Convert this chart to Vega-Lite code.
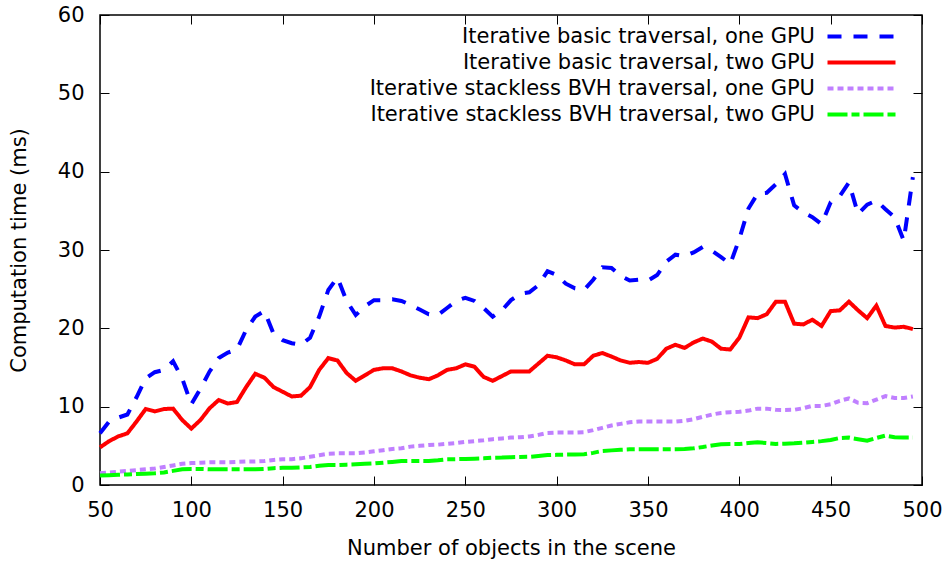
{
  "$schema": "https://vega.github.io/schema/vega-lite/v6.json",
  "width": 822,
  "height": 470,
  "autosize": {"type": "none"},
  "padding": {"left": 100, "top": 15, "right": 27, "bottom": 79},
  "background": "white",
  "config": {
    "view": {"stroke": "#000", "strokeWidth": 1.5},
    "font": "DejaVu Sans",
    "axis": {
      "domain": false,
      "grid": false,
      "labelFlush": false,
      "tickColor": "#000",
      "tickSize": -9,
      "tickWidth": 1,
      "labelFont": "DejaVu Sans",
      "labelFontSize": 21,
      "labelColor": "#000",
      "titleFont": "DejaVu Sans",
      "titleFontSize": 21,
      "titleFontWeight": "normal",
      "titleColor": "#000"
    }
  },
  "data": {"values": [
    {"n":50,"b":6.6,"r":4.8,"p":1.5,"g":1.2},
    {"n":55,"b":8.1,"r":5.6,"p":1.6,"g":1.25},
    {"n":60,"b":8.6,"r":6.2,"p":1.7,"g":1.3},
    {"n":65,"b":9.0,"r":6.6,"p":1.8,"g":1.35},
    {"n":70,"b":11.2,"r":8.1,"p":1.9,"g":1.4},
    {"n":75,"b":13.6,"r":9.7,"p":2.0,"g":1.45},
    {"n":80,"b":14.4,"r":9.4,"p":2.1,"g":1.5},
    {"n":85,"b":14.7,"r":9.7,"p":2.3,"g":1.6},
    {"n":90,"b":15.8,"r":9.75,"p":2.5,"g":1.8},
    {"n":95,"b":13.6,"r":8.3,"p":2.7,"g":2.0},
    {"n":100,"b":10.3,"r":7.2,"p":2.8,"g":2.05},
    {"n":105,"b":12.3,"r":8.3,"p":2.85,"g":2.05},
    {"n":110,"b":14.5,"r":9.8,"p":2.9,"g":2.0},
    {"n":115,"b":16.2,"r":10.85,"p":2.9,"g":2.0},
    {"n":120,"b":16.9,"r":10.4,"p":2.9,"g":2.0},
    {"n":125,"b":17.3,"r":10.6,"p":2.95,"g":2.0},
    {"n":130,"b":19.8,"r":12.5,"p":3.0,"g":2.0},
    {"n":135,"b":21.5,"r":14.2,"p":3.0,"g":2.0},
    {"n":140,"b":22.2,"r":13.7,"p":3.05,"g":2.05},
    {"n":145,"b":19.3,"r":12.5,"p":3.2,"g":2.15},
    {"n":150,"b":18.5,"r":11.9,"p":3.3,"g":2.2},
    {"n":155,"b":18.1,"r":11.3,"p":3.3,"g":2.2},
    {"n":160,"b":17.9,"r":11.4,"p":3.4,"g":2.25},
    {"n":165,"b":18.8,"r":12.5,"p":3.6,"g":2.3},
    {"n":170,"b":21.5,"r":14.7,"p":3.8,"g":2.45},
    {"n":175,"b":24.9,"r":16.2,"p":4.0,"g":2.55},
    {"n":180,"b":26.5,"r":15.9,"p":4.05,"g":2.55},
    {"n":185,"b":23.5,"r":14.3,"p":4.05,"g":2.6},
    {"n":190,"b":21.7,"r":13.3,"p":4.05,"g":2.65},
    {"n":195,"b":22.8,"r":14.0,"p":4.15,"g":2.7},
    {"n":200,"b":23.6,"r":14.7,"p":4.3,"g":2.75},
    {"n":205,"b":23.6,"r":14.9,"p":4.45,"g":2.85},
    {"n":210,"b":23.7,"r":14.9,"p":4.6,"g":2.95},
    {"n":215,"b":23.5,"r":14.5,"p":4.7,"g":3.05},
    {"n":220,"b":23.0,"r":14.0,"p":4.9,"g":3.06},
    {"n":225,"b":22.4,"r":13.7,"p":5.0,"g":3.06},
    {"n":230,"b":21.8,"r":13.5,"p":5.1,"g":3.06},
    {"n":235,"b":21.7,"r":14.0,"p":5.15,"g":3.15},
    {"n":240,"b":22.6,"r":14.7,"p":5.25,"g":3.28},
    {"n":245,"b":23.5,"r":14.9,"p":5.35,"g":3.3},
    {"n":250,"b":23.9,"r":15.4,"p":5.5,"g":3.32},
    {"n":255,"b":23.5,"r":15.1,"p":5.6,"g":3.35},
    {"n":260,"b":22.6,"r":13.8,"p":5.7,"g":3.4},
    {"n":265,"b":21.5,"r":13.3,"p":5.85,"g":3.48},
    {"n":270,"b":22.3,"r":13.9,"p":5.95,"g":3.5},
    {"n":275,"b":23.6,"r":14.5,"p":6.05,"g":3.55},
    {"n":280,"b":24.4,"r":14.5,"p":6.1,"g":3.58},
    {"n":285,"b":24.6,"r":14.5,"p":6.2,"g":3.6},
    {"n":290,"b":25.5,"r":15.5,"p":6.4,"g":3.7},
    {"n":295,"b":27.3,"r":16.5,"p":6.65,"g":3.82},
    {"n":300,"b":26.8,"r":16.3,"p":6.7,"g":3.85},
    {"n":305,"b":25.7,"r":15.9,"p":6.7,"g":3.88},
    {"n":310,"b":25.1,"r":15.4,"p":6.7,"g":3.9},
    {"n":315,"b":24.9,"r":15.4,"p":6.75,"g":3.92},
    {"n":320,"b":26.2,"r":16.5,"p":7.0,"g":4.1},
    {"n":325,"b":27.8,"r":16.85,"p":7.3,"g":4.35},
    {"n":330,"b":27.7,"r":16.4,"p":7.6,"g":4.42},
    {"n":335,"b":26.7,"r":15.9,"p":7.8,"g":4.5},
    {"n":340,"b":26.1,"r":15.6,"p":8.0,"g":4.55},
    {"n":345,"b":26.2,"r":15.7,"p":8.1,"g":4.55},
    {"n":350,"b":26.1,"r":15.6,"p":8.1,"g":4.55},
    {"n":355,"b":26.8,"r":16.1,"p":8.1,"g":4.55},
    {"n":360,"b":28.5,"r":17.4,"p":8.1,"g":4.55},
    {"n":365,"b":29.4,"r":17.9,"p":8.1,"g":4.56},
    {"n":370,"b":29.2,"r":17.5,"p":8.2,"g":4.6},
    {"n":375,"b":29.7,"r":18.2,"p":8.4,"g":4.68},
    {"n":380,"b":30.4,"r":18.7,"p":8.7,"g":4.85},
    {"n":385,"b":29.9,"r":18.3,"p":9.0,"g":5.05},
    {"n":390,"b":29.1,"r":17.4,"p":9.2,"g":5.2},
    {"n":395,"b":28.2,"r":17.3,"p":9.3,"g":5.23},
    {"n":400,"b":31.4,"r":18.8,"p":9.35,"g":5.23},
    {"n":405,"b":35.3,"r":21.4,"p":9.5,"g":5.35},
    {"n":410,"b":37.2,"r":21.3,"p":9.75,"g":5.45},
    {"n":415,"b":37.3,"r":21.8,"p":9.75,"g":5.35},
    {"n":420,"b":38.4,"r":23.4,"p":9.6,"g":5.25},
    {"n":425,"b":39.7,"r":23.4,"p":9.58,"g":5.28},
    {"n":430,"b":35.7,"r":20.6,"p":9.6,"g":5.32},
    {"n":435,"b":34.8,"r":20.5,"p":9.8,"g":5.4},
    {"n":440,"b":34.2,"r":21.1,"p":10.1,"g":5.5},
    {"n":445,"b":33.3,"r":20.3,"p":10.1,"g":5.6},
    {"n":450,"b":36.1,"r":22.2,"p":10.3,"g":5.75},
    {"n":455,"b":36.9,"r":22.3,"p":10.75,"g":6.0},
    {"n":460,"b":38.6,"r":23.4,"p":11.05,"g":6.05},
    {"n":465,"b":34.6,"r":22.3,"p":10.5,"g":5.85},
    {"n":470,"b":35.8,"r":21.3,"p":10.45,"g":5.65},
    {"n":475,"b":36.3,"r":22.9,"p":10.9,"g":6.0},
    {"n":480,"b":35.2,"r":20.3,"p":11.35,"g":6.3},
    {"n":485,"b":34.2,"r":20.1,"p":11.1,"g":6.1},
    {"n":490,"b":31.2,"r":20.2,"p":11.1,"g":6.05},
    {"n":495,"b":39.3,"r":19.9,"p":11.3,"g":6.05}
  ]},
  "transform": [{"fold": ["b", "r", "p", "g"], "as": ["series", "t"]}],
  "layer": [
    {
      "mark": {"type": "line", "strokeWidth": 4},
      "encoding": {
        "x": {
          "field": "n", "type": "quantitative",
          "scale": {"domain": [50, 500], "nice": false, "zero": false},
          "axis": {"orient": "bottom", "title": "Number of objects in the scene", "values": [50,100,150,200,250,300,350,400,450,500], "labelPadding": 23, "titlePadding": 17}
        },
        "y": {
          "field": "t", "type": "quantitative",
          "scale": {"domain": [0, 60], "nice": false},
          "axis": {"orient": "left", "title": "Computation time (ms)", "values": [0,10,20,30,40,50,60], "labelPadding": 25, "titlePadding": 28}
        },
        "color": {
          "field": "series", "type": "nominal",
          "scale": {"domain": ["b", "r", "p", "g"], "range": ["#0000ff", "#ff0000", "#c080ff", "#00ff00"]},
          "legend": {
            "orient": "none", "legendX": 751, "legendY": 11, "title": null,
            "symbolType": "M-4,0L4,0", "symbolSize": 289, "symbolStrokeWidth": 4,
            "labelAlign": "right", "labelOffset": -57, "labelLimit": 700,
            "labelFont": "DejaVu Sans", "labelFontSize": 21, "labelColor": "#000", "rowPadding": 4,
            "labelExpr": "datum.value == 'b' ? 'Iterative basic traversal, one GPU' : datum.value == 'r' ? 'Iterative basic traversal, two GPU' : datum.value == 'p' ? 'Iterative stackless BVH traversal, one GPU' : 'Iterative stackless BVH traversal, two GPU'"
          }
        },
        "strokeDash": {
          "field": "series", "type": "nominal",
          "scale": {"domain": ["b", "r", "p", "g"], "range": [[14, 12], [1, 0], [6, 4], [20, 4, 8, 4]]},
          "legend": {
            "orient": "none", "legendX": 751, "legendY": 11, "title": null,
            "symbolType": "M-4,0L4,0", "symbolSize": 289, "symbolStrokeWidth": 4,
            "labelAlign": "right", "labelOffset": -57, "labelLimit": 700,
            "labelFont": "DejaVu Sans", "labelFontSize": 21, "labelColor": "#000", "rowPadding": 4,
            "labelExpr": "datum.value == 'b' ? 'Iterative basic traversal, one GPU' : datum.value == 'r' ? 'Iterative basic traversal, two GPU' : datum.value == 'p' ? 'Iterative stackless BVH traversal, one GPU' : 'Iterative stackless BVH traversal, two GPU'"
          }
        }
      }
    },
    {
      "mark": {"type": "point", "opacity": 0},
      "encoding": {
        "x": {"field": "n", "type": "quantitative", "axis": {"orient": "top", "labels": false, "title": null, "values": [50,100,150,200,250,300,350,400,450,500]}},
        "y": {"field": "t", "type": "quantitative", "axis": {"orient": "right", "labels": false, "title": null, "values": [0,10,20,30,40,50,60]}}
      }
    }
  ],
  "resolve": {"axis": {"x": "independent", "y": "independent"}}
}
